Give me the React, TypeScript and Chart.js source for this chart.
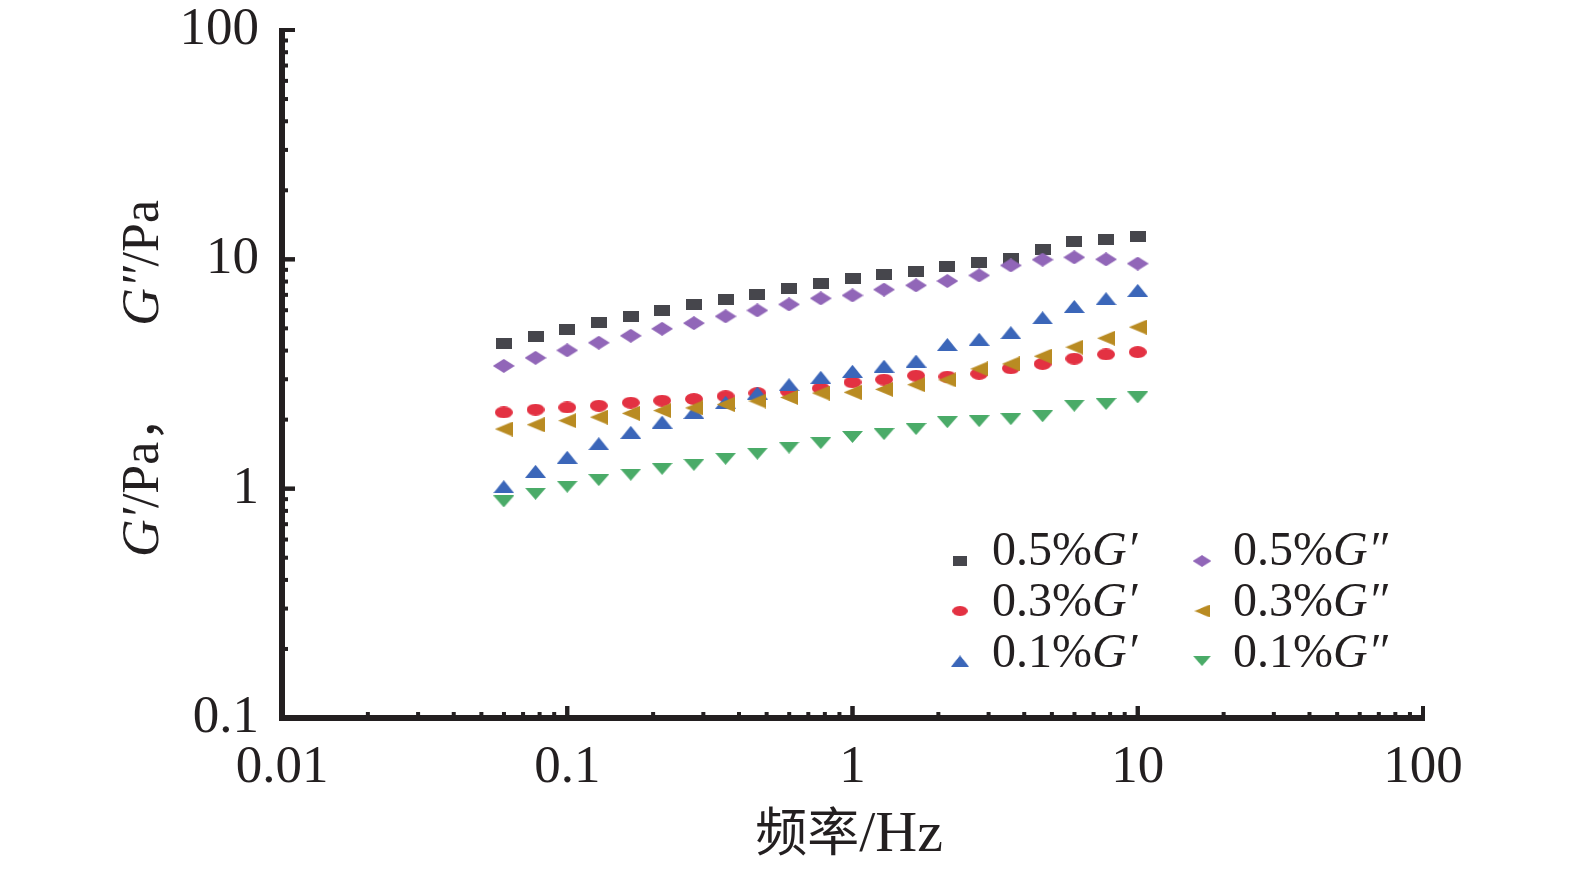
import { useEffect, useRef } from "react"
import { Chart, registerables } from "chart.js"

Chart.register(...registerables)

// frequency sweep points (Hz)
const frequency = [
  0.0599, 0.0774, 0.1, 0.129, 0.167, 0.215, 0.278, 0.359, 0.464, 0.599, 0.774,
  1, 1.29, 1.67, 2.15, 2.78, 3.59, 4.64, 5.99, 7.74, 10,
]

// storage modulus G' (Pa)
const storage05 = [4.31, 4.61, 4.94, 5.31, 5.64, 5.99, 6.34, 6.71, 7.06, 7.45, 7.83, 8.29, 8.6, 8.87, 9.31, 9.73, 10.07, 11.06, 12.0, 12.2, 12.6]
const storage03 = [2.15, 2.21, 2.26, 2.3, 2.37, 2.42, 2.46, 2.53, 2.61, 2.65, 2.74, 2.91, 2.99, 3.11, 3.08, 3.17, 3.35, 3.5, 3.69, 3.85, 3.94]
const storage01 = [1.02, 1.19, 1.37, 1.57, 1.76, 1.95, 2.15, 2.38, 2.61, 2.84, 3.06, 3.25, 3.42, 3.6, 4.25, 4.48, 4.79, 5.56, 6.23, 6.74, 7.32]

// loss modulus G'' (Pa)
const loss05 = [3.43, 3.72, 4.01, 4.33, 4.64, 4.98, 5.27, 5.64, 5.99, 6.36, 6.76, 6.96, 7.38, 7.7, 8.04, 8.51, 9.41, 9.97, 10.2, 10.0, 9.58]
const loss03 = [1.82, 1.9, 1.98, 2.05, 2.13, 2.19, 2.25, 2.33, 2.41, 2.5, 2.61, 2.63, 2.71, 2.84, 2.98, 3.33, 3.5, 3.78, 4.14, 4.53, 5.06]
const loss01 = [0.88, 0.95, 1.02, 1.09, 1.15, 1.22, 1.27, 1.35, 1.42, 1.51, 1.58, 1.68, 1.73, 1.82, 1.95, 1.97, 2.01, 2.07, 2.3, 2.34, 2.5]

const xTicks = [0.01, 0.1, 1, 10, 100]
const yTicks = [0.1, 1, 10, 100]

const concentrations = ["0.5%", "0.3%", "0.1%"]

const INK = "#231f20"
const SERIF = '"Liberation Serif", "Times New Roman", serif'
const CJK = '"Noto Sans CJK SC", sans-serif'

type Shape = "square" | "diamond" | "circle" | "left" | "up" | "down"

function makeMarker(shape: Shape, color: string, w: number, h: number) {
  const c = document.createElement("canvas")
  c.width = w
  c.height = h
  const g = c.getContext("2d")!
  g.fillStyle = color
  g.beginPath()
  if (shape === "square") {
    g.rect(0, 0, w, h)
  } else if (shape === "diamond") {
    g.moveTo(w / 2, 0)
    g.lineTo(w, h / 2)
    g.lineTo(w / 2, h)
    g.lineTo(0, h / 2)
  } else if (shape === "circle") {
    g.ellipse(w / 2, h / 2, w / 2, h / 2, 0, 0, Math.PI * 2)
  } else if (shape === "left") {
    g.moveTo(0, h / 2)
    g.lineTo(w, 0)
    g.lineTo(w, h)
  } else if (shape === "up") {
    g.moveTo(w / 2, 0)
    g.lineTo(w, h)
    g.lineTo(0, h)
  } else {
    g.moveTo(0, 0)
    g.lineTo(w, 0)
    g.lineTo(w / 2, h)
  }
  g.closePath()
  g.fill()
  return c
}

// draws text pieces one after another, returns the end x
function drawPieces(ctx: CanvasRenderingContext2D, pieces: [string, string][], x: number, y: number) {
  let cx = x
  for (const [text, font] of pieces) {
    ctx.font = font
    ctx.fillText(text, cx, y)
    cx += ctx.measureText(text).width
  }
  return cx
}

function piecesWidth(ctx: CanvasRenderingContext2D, pieces: [string, string][]) {
  let w = 0
  for (const [text, font] of pieces) {
    ctx.font = font
    w += ctx.measureText(text).width
  }
  return w
}

const axesPlugin = {
  id: "inwardAxes",
  afterDraw(chart: any) {
    const { ctx, chartArea: a, scales } = chart
    const xs = scales.x
    const ys = scales.y
    ctx.save()
    ctx.fillStyle = INK
    // axis lines
    ctx.fillRect(a.left - 3, a.top - 2, 6, a.bottom - a.top + 5)
    ctx.fillRect(a.left - 3, a.bottom - 3, a.right - a.left + 5, 6)
    // log ticks, pointing inward
    for (let d = 0.1; d < 100; d *= 10) {
      for (let m = 1; m <= 10; m++) {
        const py = ys.getPixelForValue(d * m)
        const len = m === 1 || m === 10 ? 13 : 6
        ctx.fillRect(a.left, py - 2, len, 4)
      }
    }
    for (let d = 0.01; d < 100; d *= 10) {
      for (let m = 1; m <= 10; m++) {
        const px = xs.getPixelForValue(d * m)
        const len = m === 1 || m === 10 ? 12 : 6
        ctx.fillRect(px - 2, a.bottom - len, 4, len)
      }
    }

    // axis titles
    ctx.textBaseline = "alphabetic"
    ctx.textAlign = "left"
    const reg = `52px ${SERIF}`
    const ital = `italic 52px ${SERIF}`
    const xTitle: [string, string][] = [["频率", `52px ${CJK}`], ["/Hz", `58px ${SERIF}`]]
    const xw = piecesWidth(ctx, xTitle)
    drawPieces(ctx, xTitle, 849 - xw / 2, 851)

    const yPart1: [string, string][] = [["G", ital], ["\u2032", ital], ["/Pa", reg], ["，", `50px ${CJK}`]]
    const yPart2: [string, string][] = [["G", ital], ["\u2033", ital], ["/Pa", reg]]
    ctx.save()
    ctx.translate(158, 0)
    ctx.rotate(-Math.PI / 2)
    drawPieces(ctx, yPart1, -557, 0)
    const w2 = piecesWidth(ctx, yPart2)
    drawPieces(ctx, yPart2, -200 - w2, 0)
    ctx.restore()

    // legend, two columns
    const legendItems = chart.data.datasets.slice().sort((p: any, q: any) => p.legendIndex - q.legendIndex)
    const colMarker = [960, 1202]
    const colText = [992, 1233]
    const rowBase = [565, 616, 667]
    legendItems.forEach((ds: any, i: number) => {
      const col = Math.floor(i / 3)
      const row = i % 3
      const img = ds.pointStyle as HTMLCanvasElement
      const w = img.width * 0.85
      const h = img.height * 0.85
      ctx.drawImage(img, colMarker[col] - w / 2, rowBase[row] - 4 - row - h / 2, w, h)
      ctx.fillStyle = INK
      drawPieces(
        ctx,
        [
          [concentrations[row], `48px ${SERIF}`],
          ["G", `italic 48px ${SERIF}`],
          [col === 0 ? "\u2032" : "\u2033", `italic 48px ${SERIF}`],
        ],
        colText[col],
        rowBase[row]
      )
    })
    ctx.restore()
  },
}

export default function App() {
  const chartRef = useRef<HTMLCanvasElement>(null)
  const chartInstance = useRef<Chart | null>(null)

  useEffect(() => {
    if (!chartRef.current) return
    document.body.style.margin = "0"

    if (chartInstance.current) {
      chartInstance.current.destroy()
    }

    const ctx = chartRef.current.getContext("2d")
    if (!ctx) return

    const toPoints = (ys: number[]) => ys.map((y, i) => ({ x: frequency[i], y }))

    // first entry is drawn on top
    const datasets = [
      { label: "0.1%G″", legendIndex: 5, data: toPoints(loss01), pointStyle: makeMarker("down", "#4aab68", 21, 12) },
      { label: "0.3%G″", legendIndex: 4, data: toPoints(loss03), pointStyle: makeMarker("left", "#b98b22", 18, 15) },
      { label: "0.5%G″", legendIndex: 3, data: toPoints(loss05), pointStyle: makeMarker("diamond", "#9166b8", 22, 14) },
      { label: "0.1%G′", legendIndex: 2, data: toPoints(storage01), pointStyle: makeMarker("up", "#3b66b9", 21, 13) },
      { label: "0.3%G′", legendIndex: 1, data: toPoints(storage03), pointStyle: makeMarker("circle", "#e33142", 18, 12) },
      { label: "0.5%G′", legendIndex: 0, data: toPoints(storage05), pointStyle: makeMarker("square", "#46464c", 16, 11) },
    ].map((d) => ({ ...d, showLine: false, pointRadius: 8 }))

    const tickFont = { family: SERIF, size: 53, lineHeight: 1 }

    const chartConfig: any = {
      type: "scatter",
      data: { datasets },
      options: {
        responsive: false,
        animation: false,
        devicePixelRatio: 1,
        layout: { padding: { top: 30, right: 152, left: 0, bottom: 0 } },
        plugins: { legend: { display: false }, tooltip: { enabled: false } },
        scales: {
          x: {
            type: "logarithmic",
            min: 0.01,
            max: 100,
            grid: { display: false, drawTicks: false },
            border: { display: false },
            afterBuildTicks: (s: any) => {
              s.ticks = xTicks.map((value) => ({ value }))
            },
            afterFit: (s: any) => {
              s.height = 875 - 718
              s.paddingLeft = 0
              s.paddingRight = 0
            },
            ticks: {
              autoSkip: false,
              maxRotation: 0,
              padding: 24,
              color: INK,
              font: tickFont,
              callback: (v: number) => String(v),
            },
          },
          y: {
            type: "logarithmic",
            min: 0.1,
            max: 100,
            grid: { display: false, drawTicks: false },
            border: { display: false },
            afterBuildTicks: (s: any) => {
              s.ticks = yTicks.map((value) => ({ value }))
            },
            afterFit: (s: any) => {
              s.width = 282
              s.paddingTop = 0
              s.paddingBottom = 0
            },
            ticks: {
              autoSkip: false,
              padding: 23,
              color: INK,
              font: tickFont,
              callback: (v: number) => String(v),
            },
          },
        },
      },
      plugins: [axesPlugin],
    }

    chartInstance.current = new Chart(ctx, chartConfig)

    return () => {
      if (chartInstance.current) {
        chartInstance.current.destroy()
        chartInstance.current = null
      }
    }
  }, [])

  return (
    <div style={{ width: 1575, height: 875, background: "#fff" }}>
      <canvas ref={chartRef} width={1575} height={875} />
    </div>
  )
}
